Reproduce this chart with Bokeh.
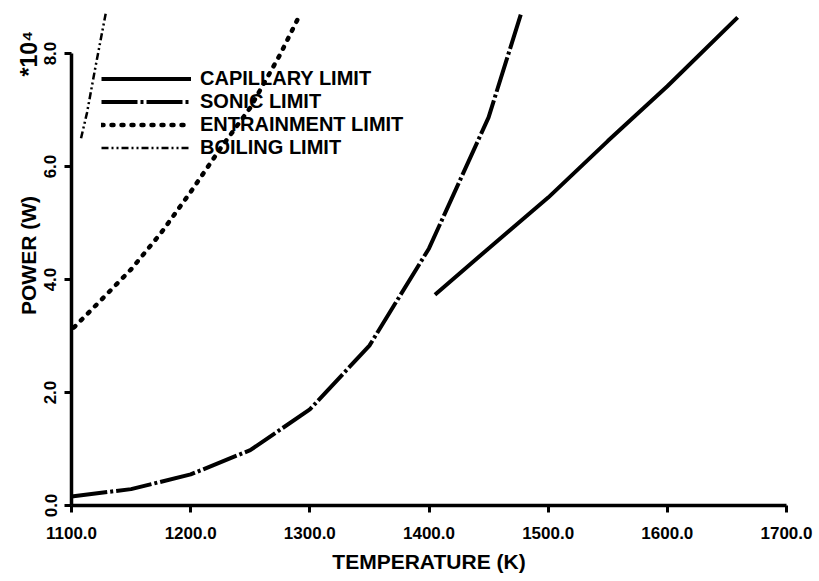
import math
from bokeh.plotting import figure
from bokeh.models import Range1d, FixedTicker, Legend, LegendItem, LinearAxis
from bokeh.embed import file_html
from bokeh.resources import INLINE

# ---- data ----
cap_T = [1405, 1450, 1500, 1550, 1600, 1659]
cap_P = [3.73, 4.55, 5.45, 6.45, 7.42, 8.64]

sonic_T = [1100, 1150, 1200, 1250, 1300, 1350, 1400, 1450, 1477]
sonic_P = [0.16, 0.29, 0.55, 0.98, 1.70, 2.83, 4.55, 6.87, 8.69]

entr_T = [1102, 1125, 1150, 1175, 1200, 1225, 1250, 1275, 1292]
entr_P = [3.15, 3.64, 4.18, 4.82, 5.55, 6.32, 7.04, 7.98, 8.70]

boil_T = [1108, 1113, 1120, 1129]
boil_P = [6.50, 6.95, 7.75, 8.74]

x_ticks = [1100, 1200, 1300, 1400, 1500, 1600, 1700]
x_tick_labels = ["1100.0", "1200.0", "1300.0", "1400.0", "1500.0", "1600.0", "1700.0"]
y_ticks = [0, 2, 4, 6, 8]
y_tick_labels = ["0.0", "2.0", "4.0", "6.0", "8.0"]
y_scale_note = "*10\u2074"
y_scale_note_at = 8.0

series_names = ["CAPILLARY LIMIT", "SONIC LIMIT", "ENTRAINMENT LIMIT", "BOILING LIMIT"]

FONT = "Liberation Sans"

p = figure(width=819, height=581, output_backend="svg", toolbar_location=None,
           x_range=Range1d(1100, 1700), y_range=Range1d(0, 8.85))
p.min_border_left = 71
p.min_border_right = 33
p.min_border_top = 5
p.min_border_bottom = 76
p.outline_line_color = None
p.grid.visible = False
p.background_fill_color = "white"
p.border_fill_color = "white"

r_cap = p.line(cap_T, cap_P, line_color="black", line_width=4)
r_son = p.line(sonic_T, sonic_P, line_color="black", line_width=4, line_dash="36 3 3 3")
r_ent = p.line(entr_T, entr_P, line_color="black", line_width=4.5, line_dash="2 8", line_cap="round")
r_boi = p.line(boil_T, boil_P, line_color="black", line_width=2.5, line_dash="7 3 2 3 2 3")

# axes
for ax in (p.xaxis[0], p.yaxis[0]):
    ax.axis_line_width = 3.5
    ax.axis_line_color = "black"
    ax.major_tick_line_width = 3
    ax.major_tick_line_color = "black"
    ax.major_tick_out = 7
    ax.major_tick_in = 0
    ax.minor_tick_line_color = None
    ax.major_label_text_font = FONT
    ax.major_label_text_font_style = "bold"
    ax.major_label_text_font_size = "17px"
    ax.major_label_text_color = "black"
    ax.axis_label_text_font = FONT
    ax.axis_label_text_font_style = "bold"
    ax.axis_label_text_font_size = "21px"
    ax.axis_label_text_color = "black"

xa = p.xaxis[0]
xa.ticker = FixedTicker(ticks=x_ticks)
xa.major_label_overrides = dict(zip(x_ticks, x_tick_labels))
xa.bounds = (x_ticks[0], x_ticks[-1])
xa.axis_label = "TEMPERATURE (K)"
xa.major_label_standoff = 14
xa.axis_label_standoff = 8

ya = p.yaxis[0]
ya.ticker = FixedTicker(ticks=y_ticks)
ya.major_label_overrides = dict(zip(y_ticks, y_tick_labels))
ya.bounds = (y_ticks[0], y_ticks[-1])
ya.axis_label = "POWER (W)"
ya.major_label_orientation = "vertical"
ya.major_label_standoff = 8
ya.axis_label_standoff = 2

# "*10^4" exponent note, drawn as the only label of a bare extra axis
# (stacked outside the main y axis, pulled back in with a negative standoff)
note_axis = LinearAxis(ticker=FixedTicker(ticks=[y_scale_note_at]),
                       major_label_overrides={y_scale_note_at: y_scale_note},
                       axis_line_color=None, major_tick_line_color=None,
                       minor_tick_line_color=None,
                       major_tick_out=0, major_tick_in=0,
                       major_label_standoff=-29,
                       major_label_orientation="vertical",
                       major_label_text_font=FONT,
                       major_label_text_font_style="bold",
                       major_label_text_font_size="23px",
                       major_label_text_color="black")
p.add_layout(note_axis, "left")

legend = Legend(items=[LegendItem(label=n, renderers=[r]) for n, r in
                       zip(series_names, [r_cap, r_son, r_ent, r_boi])],
                location=(30, 346), orientation="vertical",
                glyph_width=90, glyph_height=21, label_height=21, label_width=10,
                label_standoff=9, spacing=0, padding=0, margin=0,
                border_line_color=None, background_fill_alpha=0,
                label_text_font=FONT, label_text_font_style="bold",
                label_text_font_size="20px", label_text_color="black")
p.add_layout(legend)

open("out.html", "w").write(file_html(p, INLINE))
